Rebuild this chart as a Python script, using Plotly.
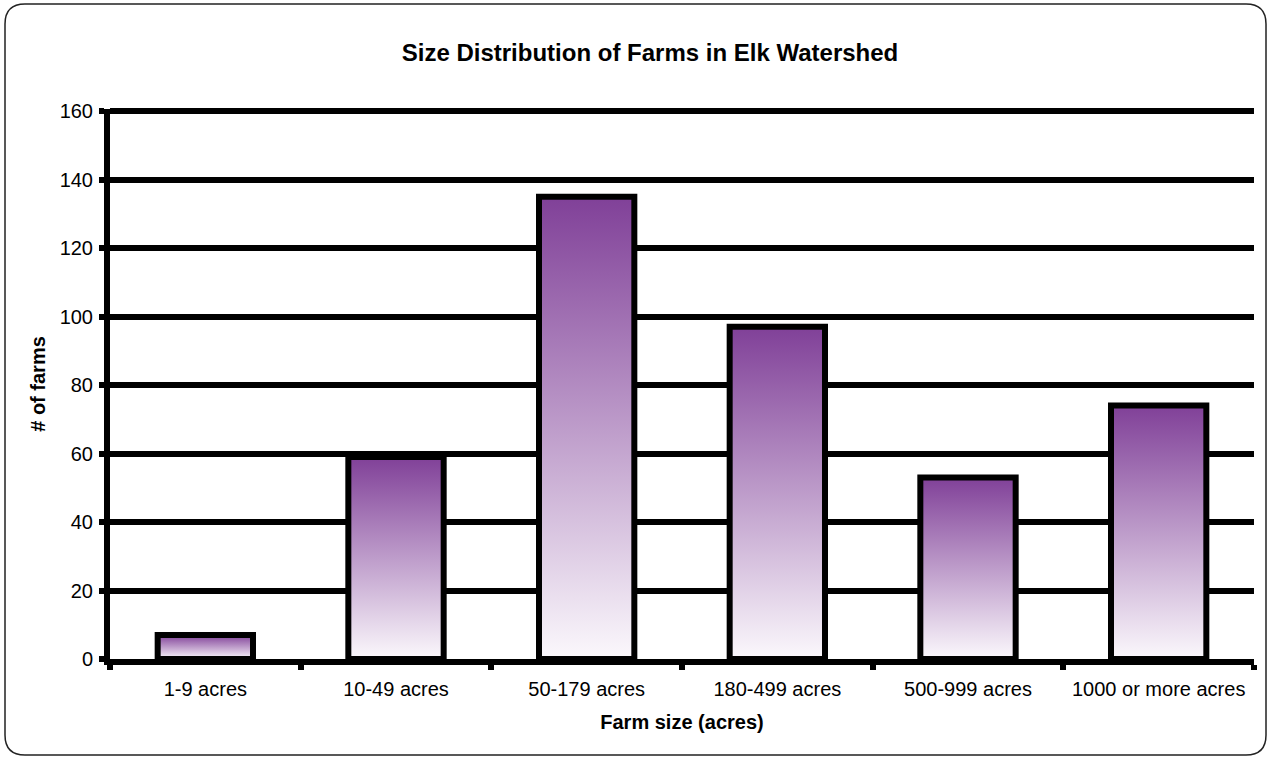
import plotly.graph_objects as go

# Farm counts by size class
categories = ["1-9 acres", "10-49 acres", "50-179 acres", "180-499 acres",
              "500-999 acres", "1000 or more acres"]
farms = [7, 59, 135, 97, 53, 74]
y_ticks = [0, 20, 40, 60, 80, 100, 120, 140, 160]

FONT = "Arial, Liberation Sans, sans-serif"
PURPLE_TOP = "rgb(128,64,152)"
PURPLE_BOTTOM = "rgb(251,248,252)"
HALF_WIDTH = 0.25
Y_MAX = 160.6  # a little headroom so the 160 gridline is drawn

fig = go.Figure()

# each bar is a filled rectangle so it can carry a vertical gradient
for i, (cat, v) in enumerate(zip(categories, farms)):
    x0, x1 = i - HALF_WIDTH, i + HALF_WIDTH
    fig.add_trace(go.Scatter(
        x=[x0, x0, x1, x1, x0],
        y=[0, v, v, 0, 0],
        mode="lines",
        fill="toself",
        fillgradient=dict(type="vertical",
                          colorscale=[[0, PURPLE_BOTTOM], [1, PURPLE_TOP]]),
        line=dict(color="black", width=6),
        name=cat,
        hoverinfo="text",
        text=f"{cat}: {v}",
        showlegend=False,
    ))

# plot area in pixels
L, R, T, B = 110, 15, 109, 99
W, H = 1269, 758
pw, ph = W - L - R, H - T - B


def px(x):
    return (x - L) / pw


def py(y):
    return (H - B - y) / ph


# rounded frame around the whole chart
x0, x1, y0, y1, r = 5, 1266, 4, 755, 20
frame = (
    f"M {px(x0 + r)},{py(y0)} L {px(x1 - r)},{py(y0)} "
    f"Q {px(x1)},{py(y0)} {px(x1)},{py(y0 + r)} "
    f"L {px(x1)},{py(y1 - r)} "
    f"Q {px(x1)},{py(y1)} {px(x1 - r)},{py(y1)} "
    f"L {px(x0 + r)},{py(y1)} "
    f"Q {px(x0)},{py(y1)} {px(x0)},{py(y1 - r)} "
    f"L {px(x0)},{py(y0 + r)} "
    f"Q {px(x0)},{py(y0)} {px(x0 + r)},{py(y0)} Z"
)
fig.add_shape(type="path", path=frame, xref="paper", yref="paper",
              line=dict(color="#222222", width=1.5), layer="above")

fig.update_layout(
    width=W, height=H,
    margin=dict(l=L, r=R, t=T, b=B),
    paper_bgcolor="white",
    plot_bgcolor="white",
    font=dict(family=FONT, color="black", size=20),
    title=dict(text="<b>Size Distribution of Farms in Elk Watershed</b>",
               font=dict(size=24, family=FONT, color="black"),
               x=650 / W, xref="container", xanchor="center",
               y=1 - 53 / H, yref="container", yanchor="middle"),
)

fig.update_xaxes(
    range=[-0.5, 5.5],
    tickmode="array",
    tickvals=list(range(len(categories))),
    ticktext=categories,
    ticks="",
    showgrid=False,
    zeroline=False,
    showline=True, linecolor="black", linewidth=6,
    tickfont=dict(size=20),
    ticklabelstandoff=7,
    minor=dict(tickmode="array",
               tickvals=[k - 0.5 for k in range(len(categories) + 1)],
               ticks="outside", ticklen=5, tickwidth=6, tickcolor="black",
               showgrid=False),
    title=dict(text="<b>Farm size (acres)</b>", font=dict(size=20),
               standoff=18),
    fixedrange=True,
)

fig.update_yaxes(
    range=[0, Y_MAX],
    tickmode="array",
    tickvals=y_ticks,
    ticks="outside", ticklen=5, tickwidth=6, tickcolor="black",
    showgrid=True, gridcolor="black", gridwidth=6,
    zeroline=False,
    showline=True, linecolor="black", linewidth=6,
    tickfont=dict(size=20),
    ticklabelstandoff=2,
    title=dict(text="<b># of farms</b>", font=dict(size=20), standoff=11),
    fixedrange=True,
)

fig.write_html("out.html")
